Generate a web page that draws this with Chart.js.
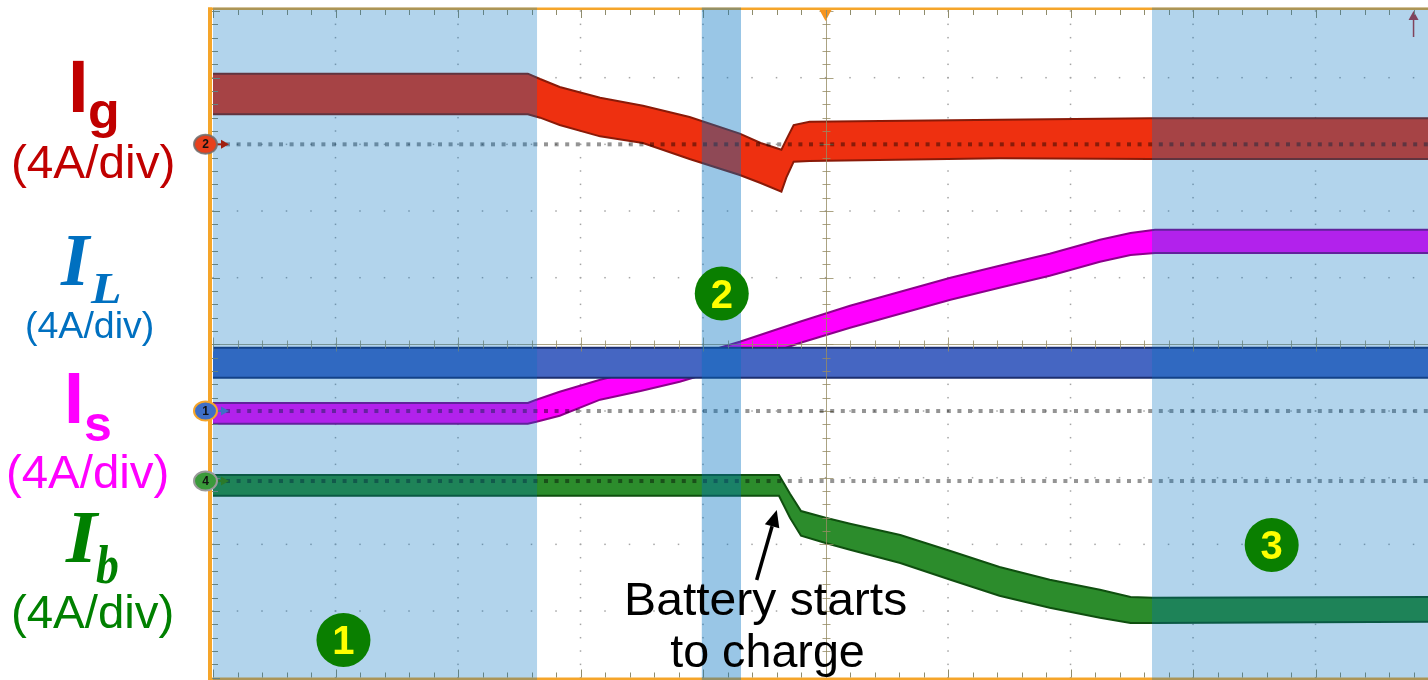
<!DOCTYPE html>
<html>
<head>
<meta charset="utf-8">
<title>Grid, inductor, source and battery currents</title>
<script src="https://cdn.jsdelivr.net/npm/chart.js@4.4.1/dist/chart.umd.min.js"></script>
<style>
  html, body { margin: 0; padding: 0; background: #ffffff; overflow: hidden; }
  #wrap { width: 1428px; height: 680px; }
</style>
</head>
<body>
<div id="wrap"><canvas id="scope" width="1428" height="680"></canvas></div>
<script>
// Time in horizontal divisions, amplitude in vertical divisions (4 A/div on every channel).
// Each trace is drawn as its ripple envelope: upper and lower edge.

// Grid current Ig
const igTime = [0, 2.57, 2.67, 2.83, 3.16, 3.51, 3.89, 4.30, 4.47, 4.64, 4.68, 4.74, 4.87, 6.42, 7.65, 9.92];
const igHigh = [4.06, 4.06, 3.98, 3.86, 3.70, 3.58, 3.41, 3.16, 3.02, 2.92, 3.07, 3.29, 3.34, 3.37, 3.39, 3.39];
const igLow  = [3.45, 3.45, 3.40, 3.29, 3.12, 3.02, 2.78, 2.54, 2.42, 2.29, 2.50, 2.74, 2.75, 2.79, 2.78, 2.78];

// Inductor current IL
const ilTime = [0, 9.92];
const ilHigh = [-0.05, -0.05];
const ilLow  = [-0.50, -0.50];

// Source current Is
const isTime = [0, 2.57, 2.64, 2.83, 3.16, 3.49, 3.81, 4.30, 4.79, 5.20, 5.61, 6.02, 6.42, 6.83, 7.24, 7.49, 7.69, 9.92];
const isHigh = [-0.88, -0.88, -0.83, -0.71, -0.53, -0.38, -0.23, 0.04, 0.34, 0.58, 0.79, 1.00, 1.18, 1.36, 1.57, 1.67, 1.72, 1.72];
const isLow  = [-1.19, -1.19, -1.16, -1.07, -0.83, -0.70, -0.56, -0.29, 0.02, 0.25, 0.46, 0.67, 0.85, 1.03, 1.24, 1.34, 1.37, 1.37];

// Battery current Ib
const ibTime = [0, 4.62, 4.71, 4.80, 5.00, 5.20, 5.61, 6.02, 6.42, 6.83, 7.24, 7.49, 7.67, 9.92];
const ibHigh = [-1.96, -1.96, -2.24, -2.50, -2.60, -2.69, -2.86, -3.10, -3.34, -3.53, -3.68, -3.79, -3.80, -3.79];
const ibLow  = [-2.27, -2.27, -2.60, -2.87, -2.98, -3.08, -3.28, -3.53, -3.77, -3.95, -4.10, -4.18, -4.18, -4.16];

// Channel reference levels (marker id, level in divisions)
const refIds    = ['2', '1', '4'];
const refLevels = [3.0, -1.0, -2.05];

// Operating modes: shaded time spans and the numbered badges
const modeSpans  = [[0, 2.645], [3.99, 4.31], [7.665, 9.92]];
const modeAlpha  = [0.3, 0.4, 0.3];
const modeNames  = ['1', '2', '3'];
const modeBadgeT = [1.065, 4.153, 8.642];
const modeBadgeV = [-4.434, 0.763, -3.009];

// "Battery starts to charge" pointer (tail, tip)
const chargeArrowT = [4.438, 4.602];
const chargeArrowV = [-3.534, -2.484];

const X_MAX = 9.918;

function pts(t, v) { return t.map((tt, i) => ({ x: tt, y: v[i] })); }

function band(name, t, hi, lo, fillColor, edgeColor) {
  return [
    { label: name + ' low', data: pts(t, lo), borderColor: edgeColor, borderWidth: 2,
      fill: false, pointRadius: 0, tension: 0 },
    { label: name + ' high', data: pts(t, hi), borderColor: edgeColor, borderWidth: 2,
      backgroundColor: fillColor, fill: '-1', pointRadius: 0, tension: 0 }
  ];
}

// text whose ink box is stretched to [left, right] on a given baseline
function inkText(ctx, str, font, color, left, right, baseline) {
  ctx.save();
  ctx.font = font;
  ctx.textAlign = 'left';
  ctx.textBaseline = 'alphabetic';
  const m = ctx.measureText(str);
  const inkW = m.actualBoundingBoxLeft + m.actualBoundingBoxRight;
  const sx = (right - left) / inkW;
  ctx.translate(left, baseline);
  ctx.scale(sx, 1);
  ctx.fillStyle = color;
  ctx.fillText(str, m.actualBoundingBoxLeft, 0);
  ctx.restore();
}

const FRAME = '#f5a52a';
const TICK = '#8f8c6c';

const scopePlugin = {
  id: 'scopeScreen',
  beforeDatasetsDraw(chart) {
    const { ctx, chartArea: a, scales: { x, y } } = chart;
    ctx.save();
    ctx.fillStyle = '#a5a5a5';
    // dotted graticule: vertical lines
    for (let i = 1; i < 10; i++) {
      if (i === 5) continue;
      const px = x.getPixelForValue(i);
      if (px > a.right) continue;
      for (let k = -25; k <= 25; k++) {
        const py = y.getPixelForValue(k / 5);
        ctx.fillRect(px - 0.75, py - 0.75, 1.5, 1.5);
      }
    }
    // dotted graticule: horizontal lines
    for (let j = -4; j <= 4; j++) {
      if (j === 0) continue;
      const py = y.getPixelForValue(j);
      for (let k = 0; k <= 50; k++) {
        const px = x.getPixelForValue(k / 5);
        if (px > a.right) break;
        ctx.fillRect(px - 0.75, py - 0.75, 1.5, 1.5);
      }
    }
    ctx.restore();
  },
  afterDatasetsDraw(chart) {
    const { ctx, chartArea: a, scales: { x, y } } = chart;
    const X = v => x.getPixelForValue(v);
    const Y = v => y.getPixelForValue(v);
    ctx.save();

    // centre axes with tick marks
    ctx.strokeStyle = 'rgba(150,140,100,0.8)';
    ctx.lineWidth = 1;
    const cx = Math.round(X(5)) + 0.5, cy = Math.round(Y(0)) + 0.5;
    ctx.beginPath();
    ctx.moveTo(cx, a.top); ctx.lineTo(cx, a.bottom);
    ctx.moveTo(a.left, cy); ctx.lineTo(a.right, cy);
    for (let k = -25; k <= 25; k++) {
      const py = Math.round(Y(k / 5)) + 0.5, l = k % 5 === 0 ? 7 : 4;
      ctx.moveTo(cx - l, py); ctx.lineTo(cx + l, py);
    }
    for (let k = 0; k <= 50; k++) {
      const px = Math.round(X(k / 5)) + 0.5, l = k % 5 === 0 ? 7 : 4;
      if (px > a.right) break;
      ctx.moveTo(px, cy - l); ctx.lineTo(px, cy + l);
    }
    ctx.stroke();

    // reference level dotted lines
    ctx.fillStyle = 'rgba(0,0,0,0.42)';
    refLevels.forEach(lv => {
      const py = Y(lv);
      for (let px = 226; px < a.right; px += 10.6) ctx.fillRect(px, py - 2, 4, 4);
    });

    // trigger position marker
    ctx.fillStyle = '#f7941d';
    ctx.beginPath();
    ctx.moveTo(X(5) - 6, 10); ctx.lineTo(X(5) + 6, 10); ctx.lineTo(X(5), 21); ctx.closePath();
    ctx.fill();

    // trigger level arrow at the right
    const ax = X(9.8);
    ctx.strokeStyle = '#b83030'; ctx.fillStyle = '#b83030'; ctx.lineWidth = 1.5;
    ctx.beginPath(); ctx.moveTo(ax, 37); ctx.lineTo(ax, 18); ctx.stroke();
    ctx.beginPath(); ctx.moveTo(ax, 11); ctx.lineTo(ax - 5, 20); ctx.lineTo(ax + 5, 20); ctx.closePath(); ctx.fill();

    // screen frame
    ctx.fillStyle = FRAME;
    ctx.fillRect(208, 7.5, a.right - 208, 2.5);
    ctx.fillRect(208, 7.5, 4, 680 - 7.5);
    ctx.fillRect(208, 677.5, a.right - 208, 2.5);

    // frame ticks
    ctx.strokeStyle = TICK; ctx.lineWidth = 1;
    ctx.beginPath();
    for (let k = 0; k <= 50; k++) {
      const px = Math.round(X(k / 5)) + 0.5, l = k % 5 === 0 ? 8 : 5;
      if (px > a.right) break;
      ctx.moveTo(px, 10); ctx.lineTo(px, 10 + l);
      ctx.moveTo(px, 677.5); ctx.lineTo(px, 677.5 - l);
    }
    for (let k = -25; k <= 25; k++) {
      const py = Math.round(Y(k / 5)) + 0.5, l = k % 5 === 0 ? 8 : 6;
      ctx.moveTo(212, py); ctx.lineTo(212 + l, py);
    }
    ctx.stroke();

    // shaded operating modes
    modeSpans.forEach((s, i) => {
      const x0 = X(s[0]), x1 = Math.min(X(s[1]), chart.width);
      ctx.fillStyle = 'rgba(0,112,192,' + modeAlpha[i] + ')';
      ctx.fillRect(x0, 7.5, x1 - x0, 680 - 7.5);
    });

    // channel reference markers
    const markerFill = ['#e8401c', '#3f6fc6', '#3a9a3a'];
    const markerRing = ['rgba(110,110,110,0.85)', '#f5a52a', '#9a9a9a'];
    const markerArrow = ['#a02010', '#3f6fc6', '#2a7a2a'];
    refLevels.forEach((lv, i) => {
      const py = Y(lv);
      ctx.fillStyle = markerArrow[i];
      ctx.fillRect(214, py - 1, 8, 2);
      ctx.beginPath(); ctx.moveTo(221, py - 4.5); ctx.lineTo(229, py); ctx.lineTo(221, py + 4.5); ctx.closePath(); ctx.fill();
      ctx.beginPath();
      ctx.ellipse(205.5, py, 11.5, 9.5, 0, 0, Math.PI * 2);
      ctx.fillStyle = markerFill[i]; ctx.fill();
      ctx.lineWidth = 2; ctx.strokeStyle = markerRing[i]; ctx.stroke();
      ctx.fillStyle = '#111';
      ctx.font = 'bold 12px "Liberation Sans"';
      ctx.textAlign = 'center'; ctx.textBaseline = 'middle';
      ctx.fillText(refIds[i], 205.5, py + 0.5);
    });

    // numbered mode badges
    modeNames.forEach((n, i) => {
      const bx = X(modeBadgeT[i]), by = Y(modeBadgeV[i]);
      ctx.beginPath(); ctx.arc(bx, by, 27, 0, Math.PI * 2);
      ctx.fillStyle = '#0a7f00'; ctx.fill();
      ctx.fillStyle = '#ffff00';
      ctx.font = 'bold 40px "Liberation Sans"';
      ctx.textAlign = 'center'; ctx.textBaseline = 'alphabetic';
      ctx.fillText(n, bx, by + 14.5);
    });

    // battery charge annotation
    const tx = X(chargeArrowT[0]), ty = Y(chargeArrowV[0]);
    const hx = X(chargeArrowT[1]), hy = Y(chargeArrowV[1]);
    const ang = Math.atan2(hy - ty, hx - tx);
    const hl = 17, hw = 7.5;
    const bxp = hx - hl * Math.cos(ang), byp = hy - hl * Math.sin(ang);
    ctx.strokeStyle = '#000'; ctx.fillStyle = '#000'; ctx.lineWidth = 3.5;
    ctx.beginPath(); ctx.moveTo(tx, ty); ctx.lineTo(bxp, byp); ctx.stroke();
    ctx.beginPath();
    ctx.moveTo(hx, hy);
    ctx.lineTo(bxp + hw * Math.sin(ang), byp - hw * Math.cos(ang));
    ctx.lineTo(bxp - hw * Math.sin(ang), byp + hw * Math.cos(ang));
    ctx.closePath(); ctx.fill();
    const tc = X(4.52);
    inkText(ctx, 'Battery starts', '46px "Liberation Sans"', '#000', tc - 139.5, tc + 139.5, Y(-4.06));
    inkText(ctx, 'to charge', '46px "Liberation Sans"', '#000', tc - 96.5, tc + 96.5, Y(-4.84));

    ctx.restore();

    // channel names and scales at the left
    const sans = '"Liberation Sans", Arial, sans-serif';
    const serif = '"Liberation Serif", "Times New Roman", serif';
    inkText(ctx, 'I', 'bold 74px ' + sans, '#c00000', 72, 84, 112);
    inkText(ctx, 'g', 'bold 50px ' + sans, '#c00000', 90, 117, 128);
    inkText(ctx, '(4A/div)', '46px ' + sans, '#c00000', 13, 173, 178);

    inkText(ctx, 'I', 'bold italic 75px ' + serif, '#0070c0', 60, 92, 285);
    inkText(ctx, 'L', 'bold italic 45px ' + serif, '#0070c0', 90, 120, 303);
    inkText(ctx, '(4A/div)', '37px ' + sans, '#0070c0', 27, 153, 338);

    inkText(ctx, 'I', 'bold 72px ' + sans, '#ff00ff', 68, 80, 423);
    inkText(ctx, 's', 'bold 50px ' + sans, '#ff00ff', 85, 110, 441);
    inkText(ctx, '(4A/div)', '46px ' + sans, '#ff00ff', 8, 167, 488);

    inkText(ctx, 'I', 'bold italic 73px ' + serif, '#008000', 65, 100, 562);
    inkText(ctx, 'b', 'bold italic 54px ' + serif, '#008000', 96, 118, 583);
    inkText(ctx, '(4A/div)', '46px ' + sans, '#008000', 13, 172, 628);
  }
};

const datasets = [
  ...band('IL', ilTime, ilHigh, ilLow, '#4566c2', '#1c2f70'),
  ...band('Is', isTime, isHigh, isLow, '#ff00ff', '#8c008c'),
  ...band('Ig', igTime, igHigh, igLow, '#ee3010', '#8a1a08'),
  ...band('Ib', ibTime, ibHigh, ibLow, '#2c8c2c', '#0f4f0f')
];

new Chart(document.getElementById('scope'), {
  type: 'line',
  data: { datasets },
  options: {
    responsive: false,
    animation: false,
    devicePixelRatio: 1,
    layout: { padding: { left: 213, top: 11, right: 0, bottom: 2.3 } },
    plugins: { legend: { display: false }, tooltip: { enabled: false } },
    elements: { point: { radius: 0 }, line: { tension: 0 } },
    scales: {
      x: { type: 'linear', min: 0, max: X_MAX, display: false },
      y: { type: 'linear', min: -5, max: 5, display: false }
    }
  },
  plugins: [scopePlugin]
});
</script>
</body>
</html>
